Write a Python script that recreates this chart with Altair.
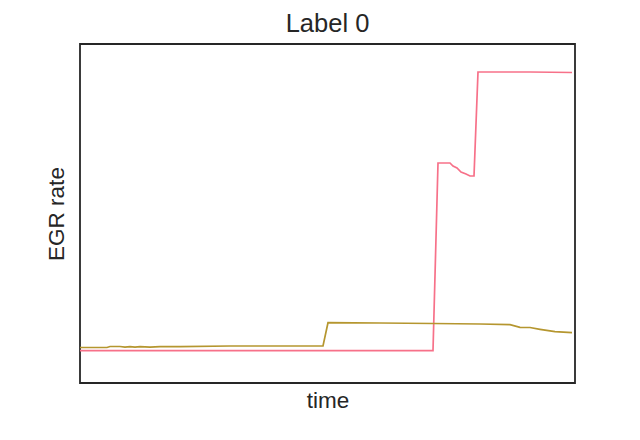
import altair as alt
import pandas as pd

pink_t = [0, 353, 358, 370, 373, 377, 381, 386, 390, 394, 398, 450, 492]
pink_v = [32.3, 32.3, 220, 220, 217, 215, 211, 209, 207, 207, 311, 311, 310.5]

olive_t = [0, 27, 30, 40, 45, 50, 55, 60, 70, 80, 100, 150, 243, 248, 300, 353, 400, 430, 440, 450, 460, 475, 492]
olive_v = [35.5, 35.5, 36.5, 36.5, 35.8, 36.3, 35.8, 36.3, 35.8, 36.3, 36.3, 37, 37, 60.3, 60, 59.5, 59, 58.3, 55.7, 55.5, 53.7, 51.3, 50.3]

series = ["a", "b"]
colors = ["#f77189", "#b5962f"]

df = pd.concat([
    pd.DataFrame({"time": pink_t, "value": pink_v, "series": series[0]}),
    pd.DataFrame({"time": olive_t, "value": olive_v, "series": series[1]}),
])

font = "Liberation Sans"

chart = alt.Chart(df).mark_line(strokeWidth=1.7).encode(
    x=alt.X("time:Q", scale=alt.Scale(domain=[0, 495], nice=False, zero=False),
            axis=alt.Axis(title="time", labels=False, ticks=False, grid=False, domain=False,
                          titleFontSize=22.5, titleFont=font, titleColor="#262626",
                          titleFontWeight="normal", titlePadding=6)),
    y=alt.Y("value:Q", scale=alt.Scale(domain=[0, 339], nice=False, zero=False),
            axis=alt.Axis(title="EGR rate", labels=False, ticks=False, grid=False, domain=False,
                          titleFontSize=22.5, titleFont=font, titleColor="#262626",
                          titleFontWeight="normal", titlePadding=12)),
    color=alt.Color("series:N", scale=alt.Scale(domain=series, range=colors), legend=None),
).properties(
    width=495, height=339,
    title=alt.TitleParams("Label 0", font=font, fontSize=25.5, fontWeight="normal", color="#262626", offset=7),
    autosize=alt.AutoSizeParams(type="none"),
    padding={"left": 72, "top": 36, "right": 50, "bottom": 45},
    background="white",
).configure_view(
    stroke="#262626", strokeWidth=1.8
)

chart.save("out.html", embed_options={"renderer": "svg", "actions": False})
